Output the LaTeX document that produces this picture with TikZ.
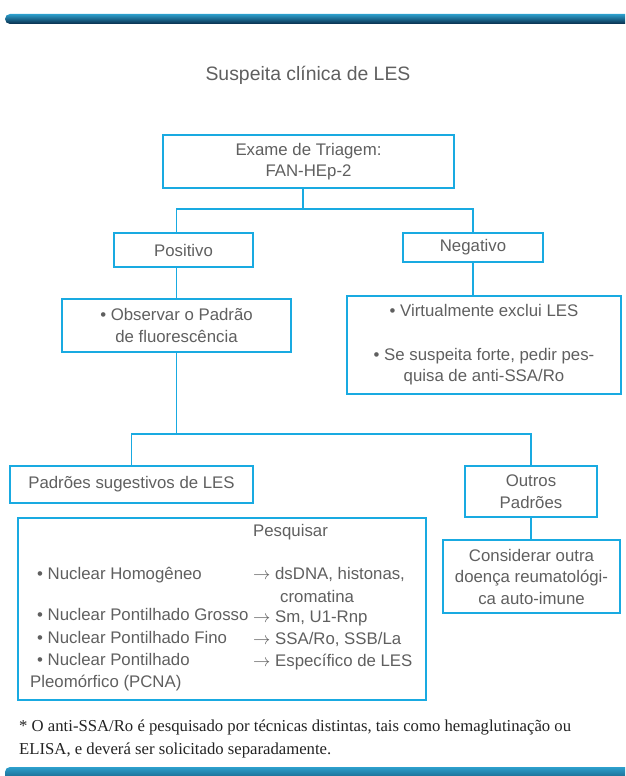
\documentclass[tikz,border=0pt]{standalone}
\usepackage{fontspec}
\setmainfont{Liberation Sans}
\newfontfamily\notefont{Liberation Serif}
\usepackage{tikz}
\definecolor{boxblue}{RGB}{25,170,225}
\definecolor{textgray}{RGB}{95,95,95}
\definecolor{notegray}{RGB}{35,35,35}
\definecolor{barlight}{RGB}{45,160,205}
\definecolor{barmid}{RGB}{30,125,170}
\definecolor{bardark}{RGB}{8,45,75}

\begin{document}
\begin{tikzpicture}[x=1pt, y=-1pt,
  every node/.style={text=textgray, font=\fontsize{16.8}{21.5}\selectfont, inner sep=0pt},
  box/.style={draw=boxblue, line width=1.9pt, align=center},
  link/.style={draw=boxblue, line width=1.9pt},
  item/.style={anchor=base west},
  bar/.style={top color=barlight, middle color=barmid, bottom color=bardark, rounded corners=5pt}]
  \useasboundingbox (0, 0) rectangle (625, 776);
  \begin{scope}
    \clip (0, 0) rectangle (625, 776);
    \shade [bar] (5, 14) rectangle (640, 24);
    \shade [bar] (5, 767) rectangle (640, 790);
  \end{scope}
  \node [font=\fontsize{19.4}{23}\selectfont] (titulo) at (308, 75) {Suspeita clínica de LES};
  \node [box, minimum width=291, minimum height=53] (triagem) at (308.5, 161.5) {Exame de Triagem:\\FAN-HEp-2};
  \node [box, minimum width=139, minimum height=34] (positivo) at (183.5, 250) {Positivo};
  \node [box, minimum width=140, minimum height=29] (negativo) at (473, 247.5) {Negativo};
  \node [box, minimum width=229, minimum height=53] (observar) at (176.5, 325.5) {• Observar o Padrão\\de fluorescência};
  \node [box, minimum width=274, minimum height=98] (virtual) at (484, 345) {• Virtualmente exclui LES\\[22pt]• Se suspeita forte, pedir pes-\\quisa de anti-SSA/Ro};
  \node [box, minimum width=243, minimum height=37] (padroes) at (131.5, 484.5) {Padrões sugestivos de LES};
  \node [box, minimum width=132, minimum height=51] (outros) at (531, 491.5) {Outros\\Padrões};
  \node [box, minimum width=177, minimum height=73] (considerar) at (531.5, 576.5) {Considerar outra\\doença reumatológi-\\ca auto-imune};
  \node [box, minimum width=408, minimum height=182] (pesquisa) at (222, 609) {};
  \node [item] (pesquisar) at (253, 536) {Pesquisar};
  \node [item] (homogeneo) at (37, 579) {• Nuclear Homogêneo};
  \node [item] (grosso) at (37, 620) {• Nuclear Pontilhado Grosso};
  \node [item] (fino) at (37, 643) {• Nuclear Pontilhado Fino};
  \node [item] (pcna) at (37, 665) {• Nuclear Pontilhado};
  \node [item] (pleomorfico) at (30, 687) {Pleomórfico (PCNA)};
  \node [item] (dsdna) at (253, 579) {$\rightarrow$ dsDNA, histonas,};
  \node [item] (cromatina) at (280, 602) {cromatina};
  \node [item] (sm) at (253, 622) {$\rightarrow$ Sm, U1-Rnp};
  \node [item] (ssa) at (253, 644) {$\rightarrow$ SSA/Ro, SSB/La};
  \node [item] (especifico) at (253, 666) {$\rightarrow$ Específico de LES};
  \node [item, text=notegray, font=\notefont\fontsize{16.7}{20}\selectfont] (nota) at (19, 731) {* O anti-SSA/Ro é pesquisado por técnicas distintas, tais como hemaglutinação ou};
  \node [item, text=notegray, font=\notefont\fontsize{16.7}{20}\selectfont] (nota2) at (19, 754) {ELISA, e deverá ser solicitado separadamente.};
  \coordinate (ramo1) at (303, 209);
  \coordinate (ramo2) at (176, 434);
  \draw [link] (triagem.south -| ramo1) -- (ramo1);
  \draw [link] (positivo.north -| observar.north) |- (ramo1) -| (negativo.north);
  \draw [link] (positivo.south -| observar.north) -- (observar.north);
  \draw [link] (negativo.south) -- (virtual.north -| negativo.south);
  \draw [link] (observar.south) -- (observar.south |- ramo2);
  \draw [link] (padroes.north) |- (ramo2) -| (outros.north);
  \draw [link] (outros.south) -- (outros.south |- considerar.north);
\end{tikzpicture}
\end{document}
